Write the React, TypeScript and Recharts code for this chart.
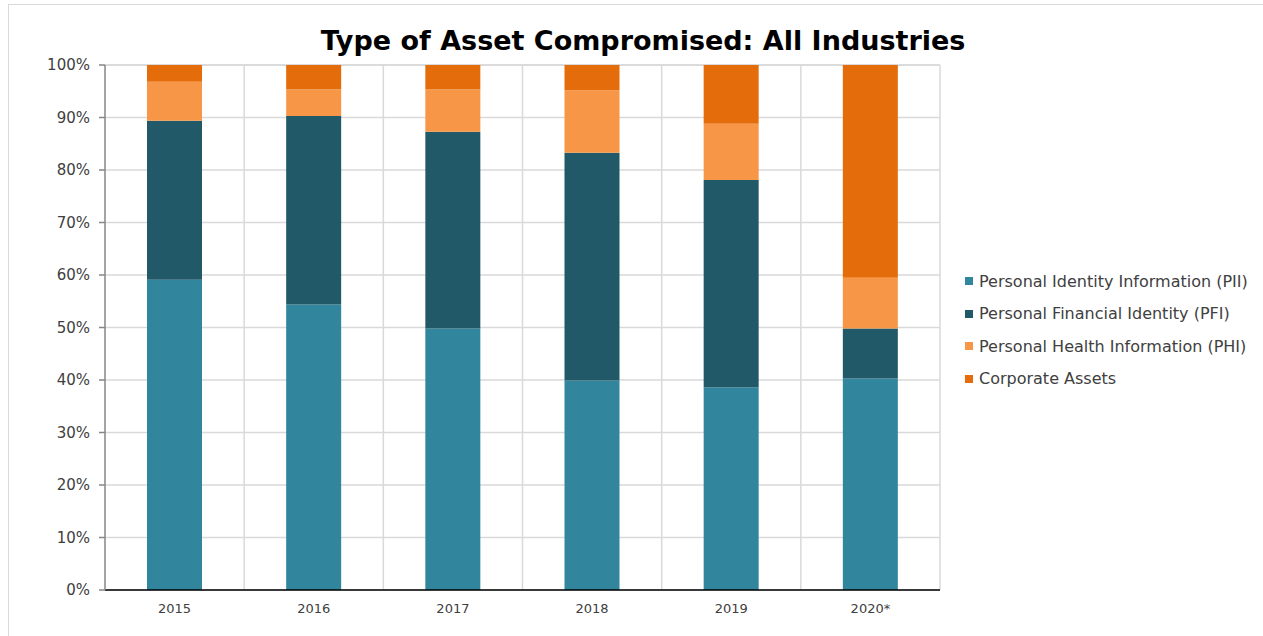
import React from 'react';
import { BarChart, Bar, XAxis, YAxis, CartesianGrid, Legend } from 'recharts';

const years = ['2015', '2016', '2017', '2018', '2019', '2020*'];
const pii = [59.1, 54.4, 49.8, 39.9, 38.6, 40.3];
const pfi = [30.3, 35.9, 37.5, 43.4, 39.5, 9.5];
const phi = [7.4, 5.1, 8.1, 11.9, 10.7, 9.7];
const corporate = [3.2, 4.6, 4.6, 4.8, 11.2, 40.5];
const yTicks = [0, 10, 20, 30, 40, 50, 60, 70, 80, 90, 100];

const seriesNames = [
  'Personal Identity Information (PII)',
  'Personal Financial Identity (PFI)',
  'Personal Health Information (PHI)',
  'Corporate Assets',
];
const seriesColors = ['#31859C', '#215968', '#F79646', '#E46C0A'];

const data = years.map((y, i) => ({
  year: y,
  pii: pii[i],
  pfi: pfi[i],
  phi: phi[i],
  corporate: corporate[i],
}));

const FONT = "'DejaVu Sans', sans-serif";

const LegendContent = () => (
  <div style={{ fontFamily: FONT, fontSize: 16, color: '#404040' }}>
    {seriesNames.map((n, i) => (
      <div key={n} style={{ display: 'flex', alignItems: 'center', height: 32.5 }}>
        <span style={{ width: 8, height: 8, background: seriesColors[i], marginRight: 6, display: 'inline-block' }} />
        <span style={{ whiteSpace: 'nowrap' }}>{n}</span>
      </div>
    ))}
  </div>
);

export default function App() {
  const W = 1254;
  const H = 631;
  return (
    <div style={{ position: 'absolute', left: 8, top: 4, width: W, height: H + 4, borderTop: '1px solid #d9d9d9', borderLeft: '1px solid #d9d9d9', borderRight: '1px solid #d9d9d9', background: '#fff' }}>
      <div style={{ position: 'absolute', left: 0, top: 20, width: 1268, textAlign: 'center', fontFamily: FONT, fontWeight: 'bold', fontSize: 27, color: '#000' }}>
        Type of Asset Compromised: All Industries
      </div>
      <BarChart
        width={W}
        height={H}
        data={data}
        margin={{ top: 60, right: 23, bottom: 16, left: 36 }}
        barSize={55}
      >
        <CartesianGrid
          stroke="#d9d9d9"
          strokeWidth={1.5}
          vertical={true}
          horizontal={true}
          verticalCoordinatesGenerator={({ offset }: any) =>
            years.map((_, i) => offset.left + ((i + 1) * offset.width) / years.length)
          }
        />
        <XAxis
          dataKey="year"
          height={30}
          tickLine={false}
          tickMargin={8}
          stroke="#000"
          strokeWidth={1.5}
          tick={{ fill: '#404040', fontSize: 13, fontFamily: FONT }}
        />
        <YAxis
          width={60}
          domain={[0, 100]}
          ticks={yTicks}
          interval={0}
          tickFormatter={(v: number) => `${v}%`}
          tickSize={6}
          tickMargin={9}
          stroke="#868686"
          strokeWidth={1.5}
          tick={{ fill: '#404040', fontSize: 15, fontFamily: FONT }}
        />
        <Legend
          layout="horizontal"
          verticalAlign="middle"
          align="right"
          content={<LegendContent />}
          wrapperStyle={{ position: 'absolute', left: 956, top: 260, width: 300 }}
        />
        <Bar dataKey="pii" name={seriesNames[0]} stackId="a" fill={seriesColors[0]} isAnimationActive={false} />
        <Bar dataKey="pfi" name={seriesNames[1]} stackId="a" fill={seriesColors[1]} isAnimationActive={false} />
        <Bar dataKey="phi" name={seriesNames[2]} stackId="a" fill={seriesColors[2]} isAnimationActive={false} />
        <Bar dataKey="corporate" name={seriesNames[3]} stackId="a" fill={seriesColors[3]} isAnimationActive={false} />
      </BarChart>
    </div>
  );
}
